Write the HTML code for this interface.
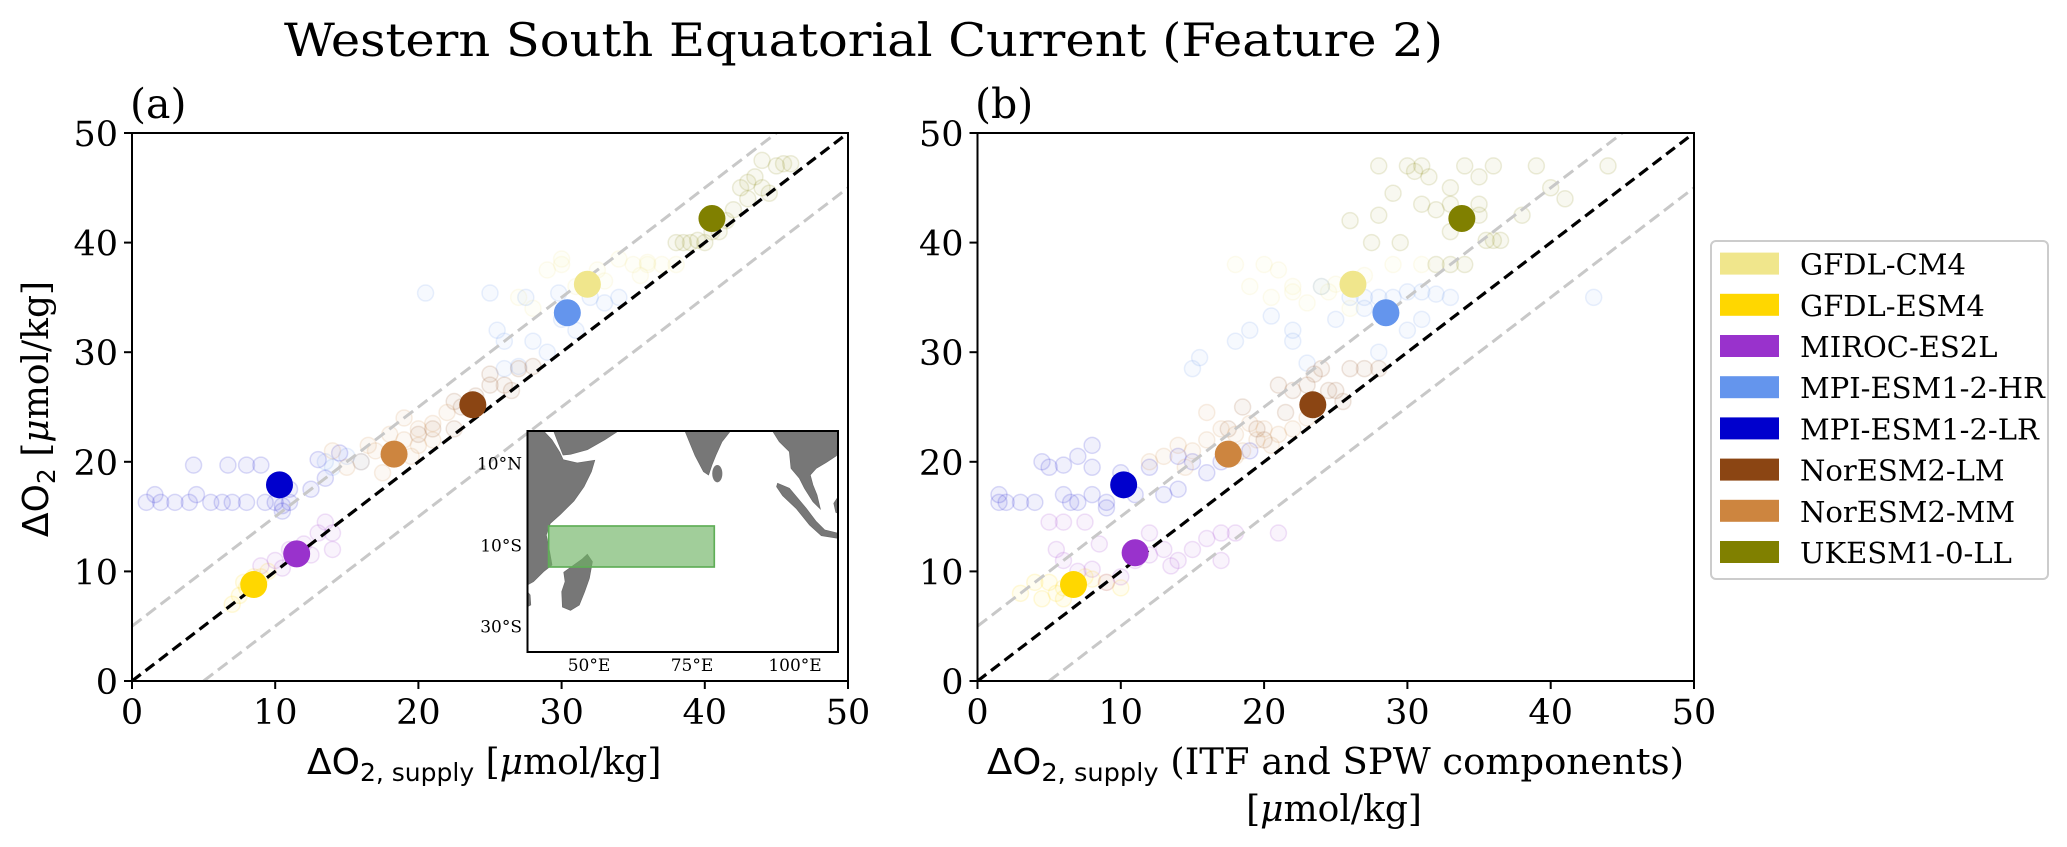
<!DOCTYPE html>
<html><head><meta charset="utf-8"><title>Western South Equatorial Current (Feature 2)</title>
<style>html,body{margin:0;padding:0;background:#fff;}svg{display:block;}text{font-family:"DejaVu Serif","Liberation Serif",serif;fill:#000;}</style></head>
<body>
<svg id="fig" width="2067" height="847" viewBox="0 0 2067 847" xmlns="http://www.w3.org/2000/svg">
<defs>
<clipPath id="clipA"><rect x="132" y="133" width="716" height="548"/></clipPath>
<clipPath id="clipB"><rect x="977.5" y="133" width="716.5" height="548"/></clipPath>
</defs>
<text x="284" y="56" font-size="46" textLength="1159" lengthAdjust="spacingAndGlyphs">Western South Equatorial Current (Feature 2)</text>
<text x="130" y="118" font-size="41">(a)</text>
<text x="975" y="118" font-size="41">(b)</text>
<g id="panelA"></g>
<g id="panelB"></g>
<text transform="translate(48,409) rotate(-90)" text-anchor="middle" font-size="36"><tspan font-family="DejaVu Sans">ΔO</tspan><tspan font-family="DejaVu Sans" font-size="25" dy="7">2</tspan><tspan dy="-7"> [</tspan><tspan font-style="italic">μ</tspan><tspan>mol/kg]</tspan></text>
<text x="307" y="774" font-size="36"><tspan font-family="DejaVu Sans">ΔO</tspan><tspan font-family="DejaVu Sans" font-size="25" dy="7">2, supply</tspan><tspan dy="-7"> [</tspan><tspan font-style="italic">μ</tspan><tspan>mol/kg]</tspan></text>
<text x="987" y="774" font-size="36" textLength="697" lengthAdjust="spacingAndGlyphs"><tspan font-family="DejaVu Sans">ΔO</tspan><tspan font-family="DejaVu Sans" font-size="25" dy="7">2, supply</tspan><tspan dy="-7"> (ITF and SPW components)</tspan></text>
<text x="1334" y="821" font-size="36" text-anchor="middle">[<tspan font-style="italic">μ</tspan>mol/kg]</text>
<g id="inset"></g>
<g id="legend"></g>
</svg>
<script>
const NS = "http://www.w3.org/2000/svg";
const modelNames = ["GFDL-CM4","GFDL-ESM4","MIROC-ES2L","MPI-ESM1-2-HR","MPI-ESM1-2-LR","NorESM2-LM","NorESM2-MM","UKESM1-0-LL"];
const modelColors = ["#f0e68c","#ffd700","#9932cc","#6495ed","#0000cd","#8b4513","#cd853f","#808000"];
const tickValues = [0,10,20,30,40,50];
const tickLabels = ["0","10","20","30","40","50"];
const meanA_x = [31.8, 8.5, 11.5, 30.4, 10.3, 23.8, 18.3, 40.5];
const meanA_y = [36.2, 8.8, 11.6, 33.6, 17.9, 25.2, 20.7, 42.2];
const meanB_x = [26.2, 6.7, 11.0, 28.5, 10.2, 23.4, 17.5, 33.8];
const meanB_y = [36.2, 8.8, 11.7, 33.6, 17.9, 25.2, 20.7, 42.2];
const faintA_CM4 = [[30,38],[35,38],[36,38],[38,38],[29,37.5],[32.5,37.5],[35.5,37],[33,36.5],[27,35],[28,34],[31,36],[36,38.2],[37,38],[30,38.5],[34,38.5]];
const faintA_ESM4 = [[7.5,7.8],[8,8.5],[9,9.5],[7,7],[8.5,9.5],[9.5,10],[7.8,9]];
const faintA_MIROC = [[9,10.5],[10,11],[11,12],[12,12.5],[13,13.5],[13.5,14.5],[14,13.5],[12.5,11.5],[14,12],[10.5,10.3]];
const faintA_HR = [[25,35.4],[20.5,35.4],[27.5,35],[29.8,35.4],[32,35],[33,34.5],[34,35],[30,33],[28,31],[29,30],[26,31],[25.5,32],[31,32],[15,20.5],[14,19.5],[16,20],[13.5,20],[27,28.7],[26,28.5]];
const faintA_LR = [[1,16.3],[2,16.3],[3,16.3],[4,16.3],[5.5,16.3],[6.3,16.3],[7,16.3],[8,16.3],[9.3,16.3],[10,16.3],[11,16.3],[1.6,17],[4.5,17],[4.3,19.7],[6.7,19.7],[8,19.7],[9,19.7],[10.5,15.5],[10.5,16],[13,20.2],[14.5,20.8],[12.5,17.5],[13.5,18.5],[11,17.5]];
const faintA_LM = [[22.5,23],[23,25],[24,26],[25,27],[26,27],[27,28.5],[28,28.7],[25,28],[22.5,25.5],[26.5,26.5],[20,22.5],[21,23]];
const faintA_MM = [[17,21],[19,22],[20,23],[21,23.5],[22,24.5],[16,20],[15,19.5],[18,20.5],[20,21.5],[18,22.5],[19,24],[14,21],[16.5,21.5],[21,22],[19.5,20.5],[17.5,19]];
const faintA_UK = [[38,40],[39,40],[40,40],[41,41],[42,43],[43,44],[44,45],[45,47],[46,47.2],[42.5,45],[43.5,46],[44.5,44.5],[38.5,40],[39.5,40.2],[44,47.5],[41.5,42],[40.5,41],[45.5,47.2],[43,45.5]];
const faintB_CM4 = [[20,38],[21,37.5],[22,36],[24,36],[25,36.2],[27,37],[18,38],[19,36],[20.5,35],[23,34.5],[26,34],[22,35.5],[24.5,35.5],[29,38],[31,38]];
const faintB_ESM4 = [[3,8],[4,9],[5,9],[5.5,8],[6,7.5],[7,9],[7.5,9.5],[8,9.3],[9,9],[10,8.5],[4.5,7.5],[6,8.5]];
const faintB_MIROC = [[5,14.5],[5.5,12],[6,11],[7,10],[8,10.2],[9,9],[10,9.5],[11,11],[12,11.5],[13,12],[14,11],[15,12],[16,13],[17,13.5],[18,13.5],[21,13.5],[6,14.5],[7.5,14.5],[8.5,12.5],[12,13.5],[13.5,10.5],[17,11]];
const faintB_HR = [[24,36],[26,35],[27,35],[28,35],[29,35],[30,35.5],[31,35.5],[32,35.3],[33,35],[43,35],[20.5,33.3],[22,32],[19,32],[25,33],[27,34],[18,31],[22,31],[15.5,29.5],[15,28.5],[23,29],[30,32],[31,33],[28,30]];
const faintB_LR = [[1.5,17],[1.5,16.3],[2,16.3],[3,16.3],[4,16.3],[5,19.5],[6,17],[6.5,16.3],[7,16.3],[8,17],[9,16.3],[9,15.8],[10,19],[12,19.5],[14,20.5],[15,20],[16,19],[17,20],[19,21],[13,17],[11,17],[6,19.7],[8,19.5],[14,17.5],[7,20.5],[8,21.5],[4.5,20]];
const faintB_LM = [[22,26.5],[23,27],[24,28.5],[25,26.5],[26,28.5],[27,28.5],[28,28.5],[25.5,25.5],[21,27],[23.5,28],[24.5,26.5],[18.5,25],[17.5,23],[19.5,23],[20,22],[21.5,24.5]];
const faintB_MM = [[12,20],[13,20.5],[14,21.5],[15,21],[16,22],[17,23],[18,22.5],[19,23.5],[20,23],[21,22.5],[22,23],[23,24],[16,24.5],[18,20.5],[20.5,21.5],[14.5,19.5],[18.5,21],[19.5,22]];
const faintB_UK = [[28,47],[30,47],[31,47],[35,46],[36,47],[34,47],[39,47],[44,47],[33,45],[30.5,46.5],[40,45],[41,44],[31,43.5],[33,43.5],[35,43.5],[32,43],[29,44.5],[31.5,46],[26,42],[28,42.5],[35.5,40.2],[36,40.2],[36.5,40.2],[38,42.5],[32,38],[33,38],[34,38],[27.5,40],[29.5,40],[33,41],[35,42.5]];
const faintA = [faintA_CM4,faintA_ESM4,faintA_MIROC,faintA_HR,faintA_LR,faintA_LM,faintA_MM,faintA_UK];
const faintB = [faintB_CM4,faintB_ESM4,faintB_MIROC,faintB_HR,faintB_LR,faintB_LM,faintB_MM,faintB_UK];

function mk(tag, attrs, parent) {
  const e = document.createElementNS(NS, tag);
  for (const k in attrs) e.setAttribute(k, attrs[k]);
  parent.appendChild(e);
  return e;
}

function drawPanel(g, x0, x1, clipId, means_x, means_y, faint) {
  const y0 = 681, y1 = 133;
  const sx = v => x0 + v * (x1 - x0) / 50;
  const sy = v => y0 - v * (y0 - y1) / 50;
  const clip = mk("g", {"clip-path": "url(#" + clipId + ")"}, g);
  for (let m = 0; m < faint.length; m++) {
    for (const p of faint[m]) {
      const c = mk("circle", {cx: sx(p[0]), cy: sy(p[1]), r: 8, fill: modelColors[m], "fill-opacity": 0.06, stroke: modelColors[m], "stroke-opacity": 0.14, "stroke-width": 1.5}, clip);
      
      
    }
  }
  const up = mk("line", {x1: sx(0), y1: sy(5), x2: sx(45), y2: sy(50), stroke: "#c8c8c8", "stroke-width": 3, "stroke-dasharray": "12 6"}, clip);
  
  
  const lo = mk("line", {x1: sx(5), y1: sy(0), x2: sx(50), y2: sy(45), stroke: "#c8c8c8", "stroke-width": 3, "stroke-dasharray": "12 6"}, clip);
  
  
  const one = mk("line", {x1: sx(0), y1: sy(0), x2: sx(50), y2: sy(50), stroke: "#000", "stroke-width": 3.2, "stroke-dasharray": "11 6"}, clip);
  
  
  for (let m = 0; m < means_x.length; m++) {
    const c = mk("circle", {cx: sx(means_x[m]), cy: sy(means_y[m]), r: 13.5, fill: modelColors[m]}, clip);
    
    
  }
  const fr = mk("rect", {x: x0, y: y1, width: x1 - x0, height: y0 - y1, fill: "none", stroke: "#000", "stroke-width": 2}, g);
  
  
  for (let i = 0; i < tickValues.length; i++) {
    const v = tickValues[i];
    const tx = mk("line", {x1: sx(v), y1: y0, x2: sx(v), y2: y0 + 8, stroke: "#000", "stroke-width": 2}, g);
    
    
    const lx = mk("text", {x: sx(v), y: 724, "text-anchor": "middle", "font-size": 35}, g);
    lx.textContent = tickLabels[i];
    
    
    const ty = mk("line", {x1: x0 - 8, y1: sy(v), x2: x0, y2: sy(v), stroke: "#000", "stroke-width": 2}, g);
    
    
    const ly = mk("text", {x: x0 - 14, y: sy(v) + 13, "text-anchor": "end", "font-size": 35}, g);
    ly.textContent = tickLabels[i];
    
    
  }
}
drawPanel(document.getElementById("panelA"), 132, 848, "clipA", meanA_x, meanA_y, faintA);
drawPanel(document.getElementById("panelB"), 977.5, 1694, "clipB", meanB_x, meanB_y, faintB);

const inset = document.getElementById("inset");
const ig = mk("g", {transform: "translate(520,425) scale(0.3367,0.3333)"}, inset);
mk("rect", {x: 22, y: 18, width: 923, height: 662, fill: "#fff"}, ig);
const landPolys = [
  "22,18 70,18 95,45 118,82 128,104 170,114 222,106 212,140 190,185 160,228 120,268 90,295 78,330 88,380 95,420 70,440 40,470 22,480",
  "22,500 30,510 32,540 22,545",
  "100,18 112,50 128,90 150,88 200,74 252,44 292,18",
  "490,18 505,55 520,92 545,140 560,150 570,120 582,90 600,50 625,18",
  "750,18 770,50 800,80 805,130 830,160 845,190 870,230 892,252 882,210 870,180 862,150 880,130 910,112 940,92 945,18",
  "765,175 800,190 850,250 880,290 905,315 945,325 945,340 895,332 860,300 820,250 780,212 762,185",
  "945,215 932,235 938,262 945,265",
  "200,388 215,410 206,460 192,500 176,540 150,556 126,546 124,500 134,470 130,442 160,420 185,402"
];
for (const p of landPolys) {
  const l = mk("polygon", {points: p, fill: "#777", stroke: "#6a6a6a", "stroke-width": 2}, ig);
  
  
}
mk("ellipse", {cx: 586, cy: 146, rx: 15, ry: 26, fill: "#777"}, ig);
const box = mk("rect", {x: 85, y: 303, width: 492, height: 123, fill: "rgba(110,180,100,0.65)", stroke: "#5fae57", "stroke-width": 5}, ig);


const iframe = mk("rect", {x: 527.5, y: 431, width: 310.5, height: 221, fill: "none", stroke: "#000", "stroke-width": 2}, inset);


const latLabels = ["10°N","10°S","30°S"];
const latPos = [463.5, 545.6, 626.7];
for (let i = 0; i < 3; i++) {
  const t = mk("text", {x: 522, y: latPos[i] + 6, "text-anchor": "end", "font-size": 17}, inset);
  t.textContent = latLabels[i];
  
  
}
const lonLabels = ["50°E","75°E","100°E"];
const lonPos = [589, 692, 795];
for (let i = 0; i < 3; i++) {
  const t = mk("text", {x: lonPos[i], y: 671, "text-anchor": "middle", "font-size": 17}, inset);
  t.textContent = lonLabels[i];
  
  
}

const lg = document.getElementById("legend");
const lb = mk("rect", {x: 1711, y: 241, width: 337, height: 338, rx: 5, fill: "#fff", stroke: "#cccccc", "stroke-width": 2}, lg);


for (let i = 0; i < modelNames.length; i++) {
  const cy = 263.6 + i * 41.2;
  const e = mk("g", {}, lg);
  
  
  mk("rect", {x: 1720, y: cy - 11, width: 59, height: 22, fill: modelColors[i]}, e);
  const t = mk("text", {x: 1800, y: cy + 11, "font-size": 29}, e);
  t.textContent = modelNames[i];
}
</script>
</body></html>
